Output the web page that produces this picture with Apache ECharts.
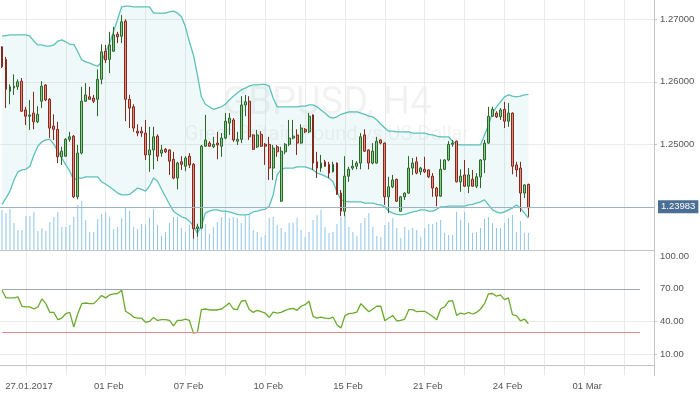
<!DOCTYPE html>
<html><head><meta charset="utf-8">
<script src="https://cdn.jsdelivr.net/npm/echarts@6/dist/echarts.min.js"></script>
<style>html,body{margin:0;padding:0;background:#fff}#c{width:700px;height:394px}</style>
</head><body><div id="c"></div>
<script>
const opens=[1.2656,1.2636,1.2585,1.2590,1.2592,1.2601,1.2555,1.2545,1.2550,1.2536,
1.2569,1.2595,1.2572,1.2529,1.2524,1.2480,1.2481,1.2508,1.2513,1.2416,
1.2486,1.2569,1.2576,1.2574,1.2572,1.2604,1.2649,1.2636,1.2649,1.2676,
1.2673,1.2697,1.2572,1.2560,1.2521,1.2521,1.2518,1.2483,1.2491,1.2513,
1.2486,1.2492,1.2491,1.2476,1.2446,1.2472,1.2465,1.2481,1.2468,1.2365,
1.2366,1.2497,1.2502,1.2496,1.2502,1.2497,1.2510,1.2534,1.2539,1.2505,
1.2508,1.2563,1.2569,1.2515,1.2496,1.2516,1.2500,1.2500,1.2462,1.2496,
1.2409,1.2488,1.2500,1.2510,1.2515,1.2502,1.2524,1.2520,1.2547,1.2472,
1.2462,1.2472,1.2468,1.2456,1.2470,1.2422,1.2393,1.2449,1.2462,1.2465,
1.2470,1.2515,1.2491,1.2470,1.2470,1.2507,1.2502,1.2416,1.2432,1.2444,
1.2393,1.2416,1.2422,1.2462,1.2472,1.2456,1.2460,1.2459,1.2449,1.2430,
1.2417,1.2460,1.2475,1.2500,1.2505,1.2440,1.2451,1.2433,1.2444,1.2433,
1.2448,1.2475,1.2502,1.2545,1.2550,1.2544,1.2556,1.2537,1.2550,1.2467,
1.2462,1.2422,1.2436];
const closes=[1.2624,1.2588,1.2592,1.2593,1.2600,1.2553,1.2545,1.2547,1.2536,1.2548,
1.2593,1.2571,1.2526,1.2524,1.2480,1.2489,1.2508,1.2512,1.2416,1.2486,
1.2569,1.2579,1.2572,1.2569,1.2604,1.2648,1.2635,1.2659,1.2675,1.2672,
1.2696,1.2572,1.2558,1.2526,1.2518,1.2518,1.2483,1.2491,1.2512,1.2481,
1.2491,1.2488,1.2473,1.2446,1.2470,1.2468,1.2478,1.2467,1.2365,1.2368,
1.2497,1.2507,1.2497,1.2500,1.2499,1.2510,1.2537,1.2542,1.2507,1.2508,
1.2563,1.2568,1.2512,1.2492,1.2515,1.2497,1.2497,1.2462,1.2494,1.2488,
1.2489,1.2500,1.2510,1.2513,1.2502,1.2526,1.2520,1.2545,1.2470,1.2462,
1.2470,1.2465,1.2454,1.2468,1.2420,1.2393,1.2449,1.2460,1.2465,1.2470,
1.2512,1.2489,1.2470,1.2489,1.2505,1.2502,1.2416,1.2432,1.2443,1.2409,
1.2416,1.2422,1.2462,1.2470,1.2454,1.2462,1.2456,1.2448,1.2430,1.2417,
1.2460,1.2475,1.2500,1.2502,1.2440,1.2449,1.2433,1.2451,1.2433,1.2448,
1.2475,1.2502,1.2545,1.2556,1.2544,1.2555,1.2537,1.2550,1.2465,1.2459,
1.2422,1.2435,1.23983];
const lows=[1.2622,1.2558,1.2564,1.2579,1.2587,1.2552,1.2531,1.2523,1.2524,1.2534,
1.2558,1.2569,1.2510,1.2507,1.2470,1.2467,1.2480,1.2504,1.2414,1.2412,
1.2484,1.2568,1.2571,1.2566,1.2545,1.2596,1.2630,1.2614,1.2648,1.2662,
1.2662,1.2537,1.2526,1.2520,1.2513,1.2512,1.2475,1.2456,1.2460,1.2473,
1.2480,1.2486,1.2451,1.2444,1.2428,1.2459,1.2457,1.2462,1.2349,1.2352,
1.2365,1.2496,1.2496,1.2494,1.2476,1.2480,1.2508,1.2515,1.2504,1.2499,
1.2502,1.2545,1.2507,1.2491,1.2494,1.2496,1.2467,1.2443,1.2443,1.2480,
1.2408,1.2484,1.2497,1.2508,1.2483,1.2501,1.2518,1.2518,1.2459,1.2446,
1.2456,1.2464,1.2446,1.2455,1.2419,1.2385,1.2385,1.2440,1.2459,1.2460,
1.2460,1.2488,1.2460,1.2468,1.2469,1.2500,1.2403,1.2390,1.2430,1.2408,
1.2392,1.2411,1.2421,1.2451,1.2452,1.2451,1.2454,1.2446,1.2416,1.2401,
1.2416,1.2459,1.2473,1.2496,1.2439,1.2424,1.2432,1.2422,1.2432,1.2430,
1.2430,1.2454,1.2501,1.2544,1.2542,1.2539,1.2526,1.2528,1.2452,1.2448,
1.2392,1.2414,1.2384];
const highs=[1.2657,1.2640,1.2596,1.2612,1.2604,1.2606,1.2560,1.2571,1.2584,1.2561,
1.2601,1.2596,1.2574,1.2548,1.2536,1.2496,1.2510,1.2520,1.2515,1.2499,
1.2592,1.2598,1.2592,1.2579,1.2620,1.2660,1.2659,1.2680,1.2688,1.2680,
1.2707,1.2700,1.2579,1.2564,1.2532,1.2528,1.2539,1.2528,1.2528,1.2516,
1.2499,1.2494,1.2492,1.2488,1.2472,1.2481,1.2481,1.2486,1.2470,1.2373,
1.2499,1.2547,1.2505,1.2512,1.2520,1.2518,1.2550,1.2550,1.2542,1.2520,
1.2577,1.2579,1.2577,1.2516,1.2523,1.2521,1.2502,1.2512,1.2499,1.2499,
1.2496,1.2502,1.2539,1.2539,1.2524,1.2532,1.2526,1.2550,1.2548,1.2488,
1.2483,1.2475,1.2472,1.2472,1.2471,1.2427,1.2481,1.2464,1.2475,1.2473,
1.2518,1.2524,1.2492,1.2502,1.2512,1.2508,1.2503,1.2448,1.2451,1.2445,
1.2417,1.2423,1.2481,1.2478,1.2480,1.2464,1.2480,1.2460,1.2454,1.2432,
1.2476,1.2476,1.2505,1.2507,1.2506,1.2460,1.2475,1.2462,1.2459,1.2454,
1.2476,1.2507,1.2560,1.2560,1.2553,1.2558,1.2568,1.2566,1.2551,1.2472,
1.2472,1.2436,1.2437];
const bbUpper=[1.2673,1.2674,1.2675,1.2675,1.2675,1.2675,1.2675,1.2673,1.2665,1.2659,
1.2659,1.2657,1.2657,1.2659,1.2665,1.2667,1.2664,1.2660,1.2660,1.2648,
1.2635,1.2632,1.2630,1.2627,1.2625,1.2632,1.2648,1.2662,1.2681,1.2700,
1.2720,1.2721,1.2721,1.2720,1.2720,1.2720,1.2720,1.2720,1.2710,1.2710,
1.2710,1.2710,1.2712,1.2713,1.2710,1.2704,1.2688,1.2664,1.2643,1.2611,
1.2576,1.2564,1.2560,1.2556,1.2558,1.2560,1.2564,1.2571,1.2577,1.2582,
1.2587,1.2590,1.2593,1.2595,1.2595,1.2596,1.2596,1.2593,1.2574,1.2560,
1.2560,1.2560,1.2560,1.2560,1.2560,1.2561,1.2561,1.2563,1.2563,1.2560,
1.2555,1.2550,1.2544,1.2542,1.2544,1.2548,1.2550,1.2552,1.2552,1.2552,
1.2550,1.2548,1.2545,1.2544,1.2539,1.2532,1.2526,1.2521,1.2521,1.2520,
1.2520,1.2520,1.2520,1.2518,1.2518,1.2518,1.2518,1.2516,1.2515,1.2513,
1.2512,1.2512,1.2512,1.2505,1.2500,1.2499,1.2499,1.2499,1.2499,1.2499,
1.2499,1.2515,1.2531,1.2550,1.2560,1.2568,1.2576,1.2579,1.2577,1.2576,
1.2577,1.2579,1.2580];
const bbLower=[1.2404,1.2414,1.2425,1.2443,1.2456,1.2459,1.2460,1.2465,1.2483,1.2497,
1.2504,1.2507,1.2508,1.2500,1.2489,1.2478,1.2467,1.2457,1.2443,1.2446,
1.2446,1.2448,1.2448,1.2448,1.2448,1.2440,1.2436,1.2432,1.2427,1.2422,
1.2419,1.2419,1.2420,1.2425,1.2430,1.2428,1.2425,1.2433,1.2446,1.2441,
1.2428,1.2416,1.2404,1.2393,1.2388,1.2384,1.2382,1.2377,1.2369,1.2358,
1.2369,1.2390,1.2393,1.2395,1.2395,1.2393,1.2393,1.2392,1.2390,1.2388,
1.2387,1.2387,1.2388,1.2392,1.2393,1.2395,1.2396,1.2401,1.2419,1.2451,
1.2460,1.2462,1.2462,1.2462,1.2464,1.2464,1.2464,1.2462,1.2459,1.2454,
1.2452,1.2449,1.2446,1.2440,1.2424,1.2411,1.2409,1.2408,1.2408,1.2408,
1.2408,1.2406,1.2406,1.2406,1.2404,1.2403,1.2400,1.2393,1.2390,1.2388,
1.2387,1.2388,1.2390,1.2392,1.2393,1.2395,1.2395,1.2393,1.2393,1.2396,
1.2400,1.2400,1.2401,1.2401,1.2401,1.2401,1.2401,1.2403,1.2404,1.2406,
1.2408,1.2411,1.2403,1.2395,1.2392,1.2390,1.2392,1.2395,1.2398,1.2403,
1.2398,1.2390,1.2382];
const volumes=[4000,3700,4100,2700,2000,2000,3400,3400,3800,1900,
2200,1900,2800,3300,3800,2300,2300,2500,3300,4500,
4900,3000,1800,1800,3100,3600,3800,3300,2100,2300,
3200,4300,3900,2300,2100,2600,2500,3200,4100,2500,
1400,1800,2700,3300,3300,2200,1800,2500,2000,2300,
2500,2600,1600,2300,2800,3300,3900,3200,3300,3200,
2700,3500,3500,2000,1800,1300,1500,3200,3300,2500,
2200,1800,2700,2700,3200,2000,1300,1800,3000,3500,
4000,2300,1700,1800,2600,3300,3400,2300,1800,1400,
2700,3200,3700,2300,1400,1300,2500,2800,3200,2200,
1200,2300,2000,2200,2000,1300,2200,2600,2600,2800,
3000,1700,1500,1500,3800,3000,3800,2700,1700,1800,
2200,3100,3300,2700,2200,2200,2700,3200,3500,1800,
2900,1700,1700];
const rsi=[68.7,61.7,61.7,61.7,62.6,54.0,53.4,53.4,51.5,53.4,
60.7,56.4,48.4,48.4,41.7,43.2,47.2,48.4,34.9,47.2,
56.4,57.0,56.4,56.4,60.1,63.8,61.7,64.4,65.4,65.7,
68.7,49.4,47.2,44.1,43.2,43.2,39.2,40.1,43.8,41.0,
41.7,41.7,41.0,36.1,41.0,41.0,42.3,41.0,29.4,30.0,
50.9,51.5,50.6,50.6,50.6,51.5,54.0,57.0,51.5,50.9,
58.6,59.5,51.0,48.4,50.3,49.0,47.8,43.8,48.7,47.8,
48.4,50.3,51.5,52.1,50.3,54.0,55.5,58.6,44.7,43.2,
44.1,43.2,42.6,44.1,37.0,34.0,45.4,47.2,47.8,48.7,
56.4,52.4,49.0,51.5,54.0,54.0,40.7,43.2,45.4,40.7,
41.0,42.3,50.9,50.9,49.0,49.4,49.4,47.2,44.7,41.7,
51.5,53.4,58.6,59.2,45.7,47.8,46.9,48.4,46.9,48.4,
51.5,56.4,65.4,65.7,63.2,64.4,60.1,61.7,46.3,45.4,
40.7,42.3,38.0];
const dateLabels=['27.01.2017','01 Feb','07 Feb','10 Feb','15 Feb','21 Feb','24 Feb','01 Mar'];
const dateLabelIdx=[6,26,46,66,86,106,126,146];
const priceTicks=[1.25,1.26,1.27];
const priceGrid=[1.25,1.26,1.27];
const rsiTicks=[10,40,70,100];
const rsiGrid=[10,40];
const lastPrice=1.23983;
const rsiHigh=70, rsiLow=30;
const symbolTitle='GBPUSD, H4';
const symbolSub='Great Britain Pound vs US Dollar';

const N=164;
const cats=[];for(let i=0;i<N;i++)cats.push(String(i));
const labelMap={};dateLabelIdx.forEach((k,j)=>labelMap[k]=dateLabels[j]);
const candles=opens.map((o,i)=>[o,closes[i],lows[i],highs[i]]);
const bbDiff=bbUpper.map((u,i)=>+(u-bbLower[i]).toFixed(5));

const FONT='Liberation Sans';
const gridX={left:-2.5,width:656.5};
const splitFn=(idx)=>idx%10===6;
const labelFn=(idx)=>idx%20===6;

const chart=echarts.init(document.getElementById('c'),null,{renderer:'canvas'});
chart.setOption({
  animation:false,
  backgroundColor:'#fff',
  textStyle:{fontFamily:FONT},
  graphic:[
    {type:'text',x:327,y:104,z:0,silent:true,style:{text:symbolTitle,fill:'rgba(0,0,0,0.05)',font:'38px Roboto',align:'center',verticalAlign:'middle'}},
    {type:'text',x:327,y:135,z:0,silent:true,style:{text:symbolSub,fill:'rgba(0,0,0,0.05)',font:'20px Roboto',align:'center',verticalAlign:'middle'}}
  ],
  grid:[
    Object.assign({top:0,height:250},gridX),
    Object.assign({top:200,height:50},gridX),
    Object.assign({top:250.7,height:125},gridX)
  ],
  xAxis:[
    {gridIndex:0,type:'category',data:cats,boundaryGap:true,
     axisLine:{show:true,lineStyle:{color:'#c4c4c4'}},axisTick:{show:false},axisLabel:{show:false},
     splitLine:{show:true,interval:splitFn,alignWithLabel:true,lineStyle:{color:'#ebebeb'}}},
    {gridIndex:1,type:'category',data:cats,boundaryGap:true,show:false},
    {gridIndex:2,type:'category',data:cats,boundaryGap:true,
     axisLine:{show:true,lineStyle:{color:'#c4c4c4'}},
     axisTick:{show:true,interval:splitFn,alignWithLabel:true,length:4,lineStyle:{color:'#dcdcdc'}},
     axisLabel:{show:true,interval:labelFn,formatter:(v)=>labelMap[+v]||'',color:'#555',fontSize:9.5,margin:6,padding:[0,0,0,6]},
     splitLine:{show:true,interval:splitFn,alignWithLabel:true,lineStyle:{color:'#ebebeb'}}}
  ],
  yAxis:[
    {gridIndex:0,type:'value',position:'right',min:1.23309,max:1.27309,scale:true,
     axisLine:{show:true,lineStyle:{color:'#c4c4c4'}},
     axisTick:{show:true,length:3,customValues:priceGrid,lineStyle:{color:'#c4c4c4'}},
     axisLabel:{customValues:priceTicks,formatter:(v)=>v.toFixed(5),color:'#555',fontSize:9.5,margin:6},
     splitLine:{show:true,lineStyle:{color:'#ebebeb'}}},
    {gridIndex:1,type:'value',min:0,max:5000,show:false,splitLine:{show:false}},
    {gridIndex:2,type:'value',position:'right',min:-9.6,max:104.9,
     axisLine:{show:true,lineStyle:{color:'#c4c4c4'}},
     axisTick:{show:true,length:3,customValues:rsiGrid,lineStyle:{color:'#c4c4c4'}},
     axisLabel:{customValues:rsiTicks,formatter:(v)=>v.toFixed(2),color:'#555',fontSize:9.5,margin:6},
     splitLine:{show:true,lineStyle:{color:'#ebebeb'}}}
  ],
  series:[
    {name:'bbLower',type:'line',xAxisIndex:0,yAxisIndex:0,data:bbLower,stack:'bb',symbol:'none',z:1,
     lineStyle:{color:'#5cc1bb',width:1.3}},
    {name:'bbUpper',type:'line',xAxisIndex:0,yAxisIndex:0,data:bbDiff,stack:'bb',symbol:'none',z:1,
     lineStyle:{color:'#5cc1bb',width:1.3},areaStyle:{color:'rgba(80,185,180,0.12)'}},
    {name:'volume',type:'bar',xAxisIndex:1,yAxisIndex:1,data:volumes,barWidth:1,z:1,
     itemStyle:{color:'#8ec6ea'}},
    {name:'price',type:'candlestick',xAxisIndex:0,yAxisIndex:0,data:candles,barWidth:2.4,z:3,
     itemStyle:{color:'#84cf84',color0:'#ee8777',borderColor:'#2b672b',borderColor0:'#812a1e',borderWidth:1},
     markLine:{silent:true,symbol:['none','none'],animation:false,
       lineStyle:{color:'#9db2c7',width:1,type:'solid'},
       label:{show:true,position:'end',formatter:()=>lastPrice.toFixed(5),color:'#fff',backgroundColor:'#4b6f94',
              padding:[2,3,1,3],fontSize:9.5,distance:4,fontFamily:FONT},
       data:[{yAxis:lastPrice}]}},
    {name:'rsi',type:'line',xAxisIndex:2,yAxisIndex:2,data:rsi,symbol:'none',z:3,
     lineStyle:{color:'#6aab2c',width:1.3},
     markLine:{silent:true,symbol:['none','none'],animation:false,label:{show:false},
       data:[
         [{coord:['0',rsiHigh],lineStyle:{color:'#9aa7b4',width:1,type:'solid'}},{coord:['160',rsiHigh]}],
         [{coord:['0',rsiLow],lineStyle:{color:'#ea8a8a',width:1,type:'solid'}},{coord:['160',rsiLow]}]
       ]}}
  ]
});
</script></body></html>
